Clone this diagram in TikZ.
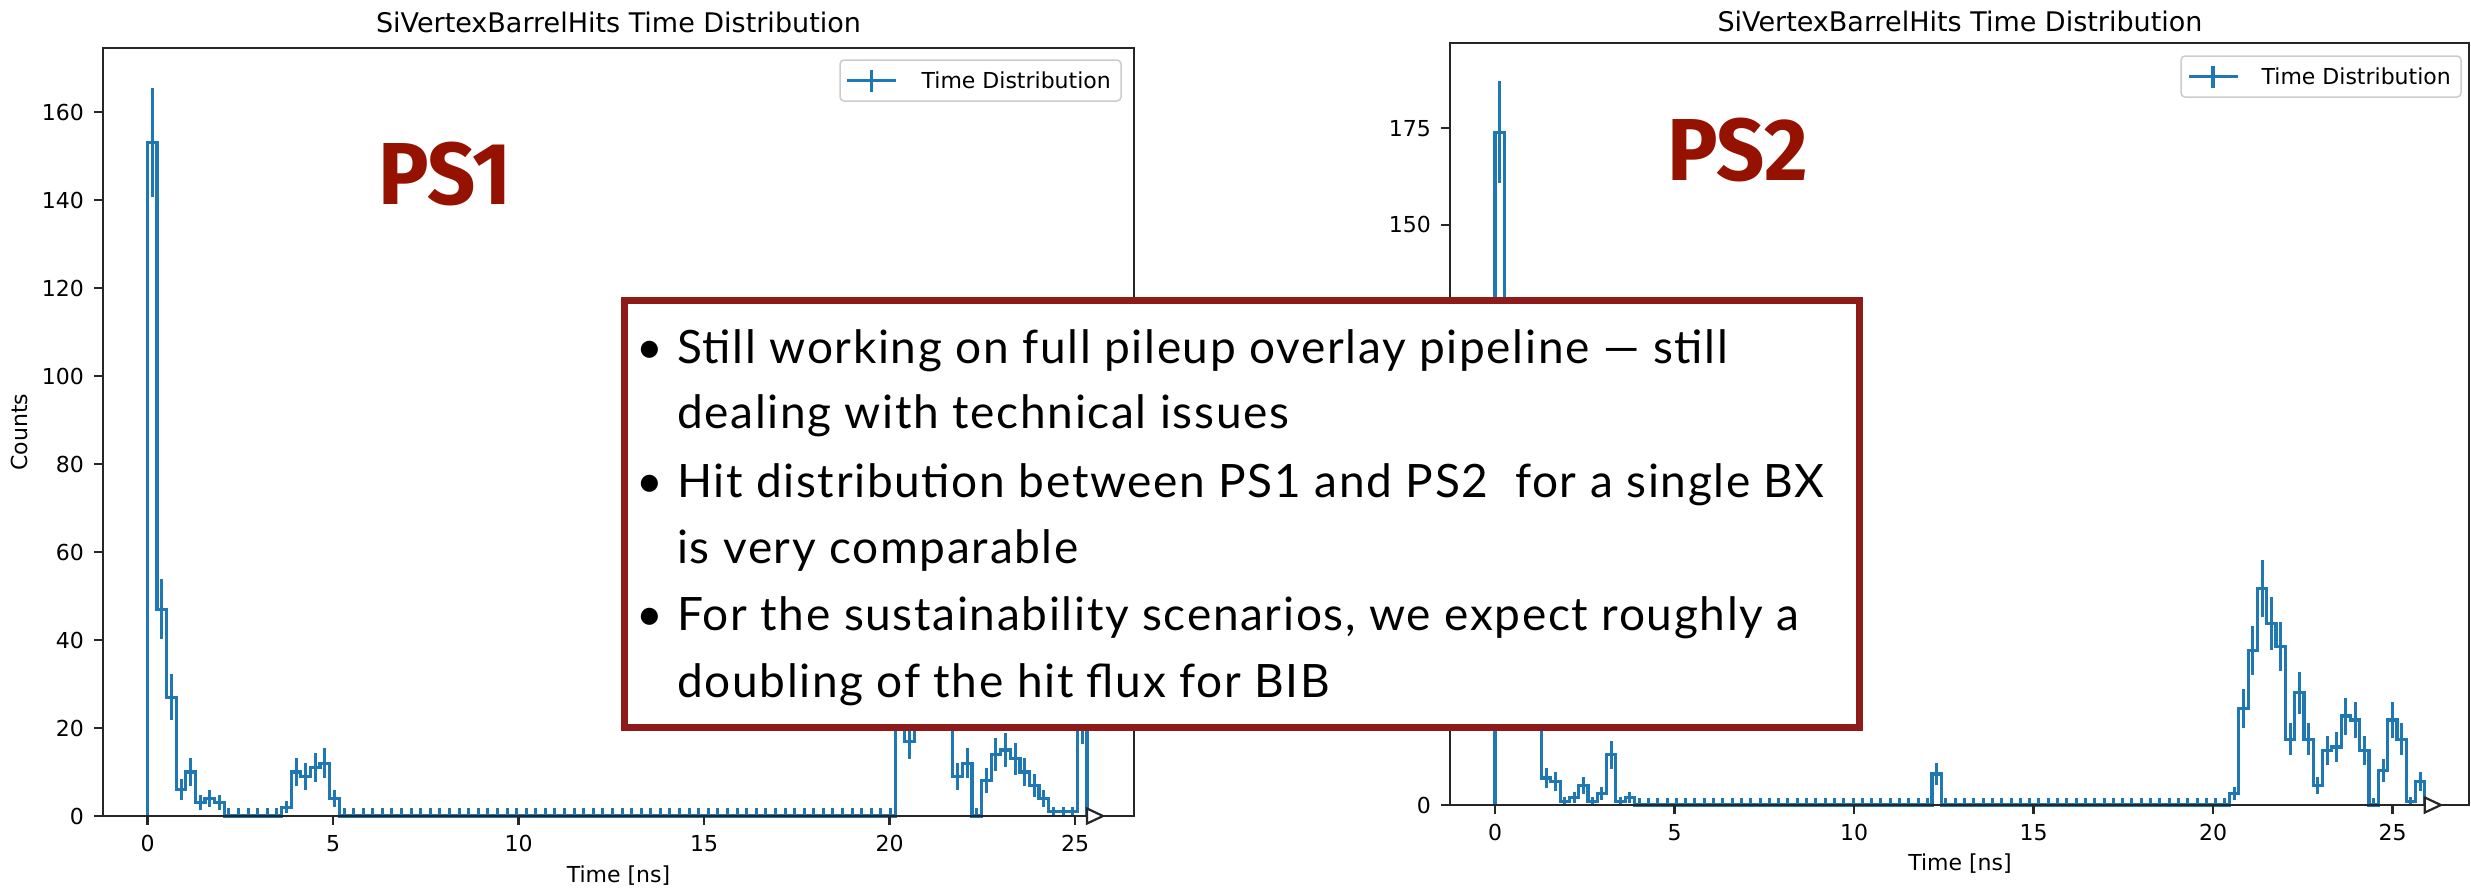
\documentclass[tikz,border=0pt]{standalone}
\usepackage{fontspec}
\usepackage{graphicx}
\setmainfont{DejaVu Sans}
\newfontfamily\slidefont[LetterSpace=3.6]{Lato}
\newfontfamily\labelfont{Fira Sans}
\usepackage{tikz}
\usetikzlibrary{positioning}
\definecolor{histBlue}{HTML}{1F77B4}
\definecolor{psRed}{HTML}{961200}
\definecolor{boxRed}{HTML}{8E1A1A}

% bin contents, one entry per bin
\def\dataA{153,47,27,6,10,3,4,3,0,0,0,0,0,0,2,10,9,11,12,4,
0,0,0,0,0,0,0,0,0,0,0,0,0,0,0,0,0,0,0,0,0,0,0,0,0,0,0,0,0,0,
0,0,0,0,0,0,0,0,0,0,0,0,0,0,0,0,0,0,0,0,0,0,0,0,0,0,0,0,
30,17,40,48,45,32,9,12,0,8,14,15,13,10,7,4,1,1,1,21}
\def\dataB{174,60,45,32,24,7,6,1,2,5,1,3,13,1,2,
0,0,0,0,0,0,0,0,0,0,0,0,0,0,0,0,0,0,0,0,0,0,0,0,0,0,0,0,0,0,0,0,
8,
0,0,0,0,0,0,0,0,0,0,0,0,0,0,0,0,0,0,0,0,0,0,0,0,0,0,0,0,0,0,0,
3,25,40,56,47,41,17,29,17,5,14,15,23,22,14,0,9,22,17,1,6}
\def\wA{0.2584}
\def\wB{0.259}

\begin{document}
\begin{tikzpicture}[x=1pt, y=-1pt,
  spine/.style={draw=black!85, line width=2.2pt},
  hist/.style={draw=histBlue, line width=3.2pt},
  errbar/.style={draw=histBlue, line width=3pt},
  ticklab/.style={inner sep=0pt, font=\fontsize{22}{26}\selectfont},
  ttl/.style={inner sep=0pt, font=\fontsize{27}{32}\selectfont},
  legbox/.style={draw=black!20, line width=1.5pt, rounded corners=4pt, fill=white, inner sep=0pt, outer sep=0pt},
  pslab/.style={inner sep=0pt, text=psRed, font=\labelfont\bfseries\fontsize{88}{96}\selectfont},
  note/.style={draw=boxRed, line width=7.5pt, fill=white, inner sep=0pt, outer sep=0pt},
  notetxt/.style={inner sep=0pt, font=\slidefont\fontsize{46}{54}\selectfont}]
\useasboundingbox (0,0) rectangle (2471,887);
\fill[white] (0,0) rectangle (2471,887);

% PS1 panel
\begin{scope}[shift={(147.5,816)}, x=37.1pt, y=4.4pt]
  \draw[hist] (0,0) foreach \n [count=\k from 0] in \dataA { -- (\k*\wA,\n) -- (\k*\wA+\wA,\n) } -- (98*\wA,0);
  \foreach \n [count=\k from 0] in \dataA {
    \pgfmathsetmacro\lo{\n-sqrt(\n)}
    \pgfmathsetmacro\hi{\n==0 ? 1.84 : \n+sqrt(\n)}
    \draw[errbar] ({(\k+0.5)*\wA},\lo) -- ({(\k+0.5)*\wA},\hi);
  }
  \draw[spine] (-1.2,0) rectangle (26.59,174.5);
  \foreach \t in {0,5,...,25} {
    \draw[spine] (\t,0) -- ++(0,-9pt);
    \node[ticklab, anchor=north] (xa\t) at ([yshift=-19pt]\t,0) {\t};
  }
  \foreach \v in {0,20,...,160} {
    \draw[spine] (-1.2,\v) -- ++(-9pt,0);
    \node[ticklab, anchor=east] (ya\v) at ([xshift=-19pt]-1.2,\v) {\v};
  }
  \draw[spine, fill=white] (98*\wA,0) ++(0,7.5pt) -- ++(0,-15pt) -- ++(16pt,7.5pt) -- cycle;
\end{scope}
\node[ttl] (ttlA) at (618.5,22.5) {SiVertexBarrelHits Time Distribution};
\node[ticklab] (xlabA) at (618.5,876) {Time [ns]};
\node[ticklab, rotate=90] (ylabA) at (19,432) {Counts};
\node[legbox, minimum width=281pt, minimum height=41pt, anchor=north west] (legA) at (840,60) {};
\node[ticklab, anchor=east] (legtA) at ([xshift=-10pt]legA.east) {Time Distribution};
\draw[hist] ([xshift=7pt]legA.west) -- ([xshift=56pt]legA.west);
\draw[hist] ([xshift=31.5pt,yshift=-11pt]legA.west) -- ([xshift=31.5pt,yshift=11pt]legA.west);
\node[pslab, anchor=base] (ps1) at (445,204) {\scalebox{0.96}[1]{PS1}};

% PS2 panel
\begin{scope}[shift={(1495,805)}, x=35.9pt, y=3.867pt]
  \draw[hist] (0,0) foreach \n [count=\k from 0] in \dataB { -- (\k*\wB,\n) -- (\k*\wB+\wB,\n) } -- (100*\wB,0);
  \foreach \n [count=\k from 0] in \dataB {
    \pgfmathsetmacro\lo{\n-sqrt(\n)}
    \pgfmathsetmacro\hi{\n==0 ? 1.84 : \n+sqrt(\n)}
    \draw[errbar] ({(\k+0.5)*\wB},\lo) -- ({(\k+0.5)*\wB},\hi);
  }
  \draw[spine] (-1.25,0) rectangle (27.13,197.05);
  \foreach \t in {0,5,...,25} {
    \draw[spine] (\t,0) -- ++(0,-9pt);
    \node[ticklab, anchor=north] (xb\t) at ([yshift=-19pt]\t,0) {\t};
  }
  \foreach \v in {0,25,...,175}
    \draw[spine] (-1.25,\v) -- ++(-9pt,0);
  \foreach \v in {0,150,175}
    \node[ticklab, anchor=east] (yb\v) at ([xshift=-19pt]-1.25,\v) {\v};
  \draw[spine, fill=white] (100*\wB,0) ++(0,7.5pt) -- ++(0,-15pt) -- ++(16pt,7.5pt) -- cycle;
\end{scope}
\node[ttl] (ttlB) at (1960,21) {SiVertexBarrelHits Time Distribution};
\node[ticklab] (xlabB) at (1960,864) {Time [ns]};
\node[legbox, minimum width=280pt, minimum height=41pt, anchor=north west] (legB) at (2181,56) {};
\node[ticklab, anchor=east] (legtB) at ([xshift=-10pt]legB.east) {Time Distribution};
\draw[hist] ([xshift=8pt]legB.west) -- ([xshift=57pt]legB.west);
\draw[hist] ([xshift=32pt,yshift=-11pt]legB.west) -- ([xshift=32pt,yshift=11pt]legB.west);
\node[pslab, anchor=base] (ps2) at (1737.5,180) {\scalebox{0.96}[1]{PS2}};

% summary box
\node[note, minimum width=1235pt, minimum height=427pt, anchor=north west] (note) at (624.5,300.5) {};
\node[notetxt, anchor=base] (b1) at (650,363) {•};
\node[notetxt, anchor=base west] (l1) at (677,363) {Still working on full pileup overlay pipeline — still};
\node[notetxt, anchor=base west] (l2) at (677,428) {dealing with technical issues};
\node[notetxt, anchor=base] (b2) at (650,497) {•};
\node[notetxt, anchor=base west] (l3) at (677,497) {Hit distribution between PS1 and PS2 \ for a single BX};
\node[notetxt, anchor=base west] (l4) at (677,563) {is very comparable};
\node[notetxt, anchor=base] (b3) at (650,630) {•};
\node[notetxt, anchor=base west] (l5) at (677,630) {For the sustainability scenarios, we expect roughly a};
\node[notetxt, anchor=base west] (l6) at (677,697) {doubling of the hit flux for BIB};
\end{tikzpicture}
\end{document}
